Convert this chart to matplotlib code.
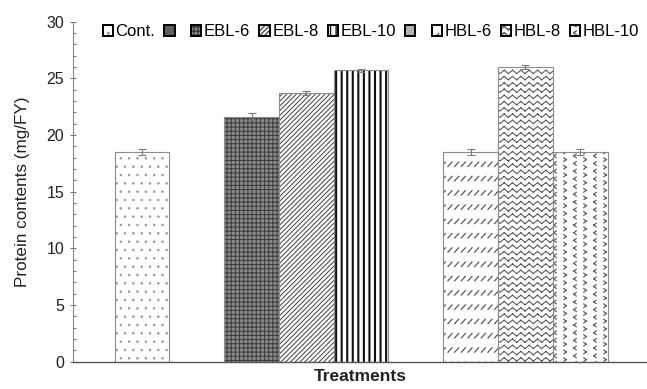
import numpy as np
import matplotlib
matplotlib.use("Agg")
import matplotlib.pyplot as plt
import matplotlib.hatch as mhatch
from matplotlib.patches import Patch
from matplotlib.path import Path
from matplotlib.ticker import MultipleLocator
from matplotlib.legend_handler import HandlerTuple

# ==============================================================================
# DADOS (proteína em mg/FY, média e erro padrão)
# os dois rótulos vazios são as posições de separação entre os grupos
# ==============================================================================

tratamentos = ['Cont.', '', 'EBL-6', 'EBL-8', 'EBL-10', '', 'HBL-6', 'HBL-8', 'HBL-10']
proteina = [18.5, 0.0, 21.6, 23.7, 25.7, 0.0, 18.5, 26.0, 18.5]
erro = [0.3, 0.0, 0.3, 0.2, 0.1, 0.0, 0.3, 0.2, 0.3]

# estilo de cada tratamento: fundo, hachura, cor e espessura da hachura
cor_fundo = ['white', '#5e5e5e', '#8a8a8a', 'white', 'white', '#b4b4b4', 'white', 'white', 'white']
hachuras = ['..', None, '++++', '///////', '|||', None, 'o', 'O', '*']
cor_hachura = ['#9a9a9a', None, '#3a3a3a', '#4a4a4a', '#111111', None, '#5a5a5a', '#555555', '#606060']
esp_hachura = [0.6, 1.0, 0.7, 0.75, 1.5, 1.0, 0.9, 0.75, 0.9]

# ==============================================================================
# PADRÕES DE HACHURA PRÓPRIOS
# 'o' -> tracinhos inclinados, 'O' -> zigue-zague, '*' -> setas < >
# ==============================================================================

def _segmento(vertices, codes, k, p0, p1):
    vertices[k] = p0
    vertices[k + 1] = p1
    codes[k] = Path.MOVETO
    codes[k + 1] = Path.LINETO
    return k + 2


class Tracinhos(mhatch.HatchPatternBase):
    def __init__(self, hatch, density):
        self.linhas = 7 if 'o' in hatch else 0
        self.por_linha = 15
        self.num_vertices = 2 * self.linhas * self.por_linha

    def set_vertices_and_codes(self, vertices, codes):
        k = 0
        dx, dy = 0.02, 0.022
        for r in range(self.linhas):
            y = (r + 0.5) / self.linhas
            for c in range(self.por_linha):
                x = (c + 0.5) / self.por_linha
                k = _segmento(vertices, codes, k, (x - dx, y - dy), (x + dx, y + dy))


class ZigueZague(mhatch.HatchPatternBase):
    def __init__(self, hatch, density):
        self.linhas = 16 if 'O' in hatch else 0
        self.dentes = 12
        self.num_vertices = 2 * self.linhas * 2 * self.dentes

    def set_vertices_and_codes(self, vertices, codes):
        k = 0
        amp = 0.27 / self.linhas
        xs = np.linspace(0, 1, 2 * self.dentes + 1)
        for r in range(self.linhas):
            y0 = (r + 0.5) / self.linhas
            ys = [y0 - amp if i % 2 == 0 else y0 + amp for i in range(xs.size)]
            for i in range(2 * self.dentes):
                k = _segmento(vertices, codes, k, (xs[i], ys[i]), (xs[i + 1], ys[i + 1]))


class Setas(mhatch.HatchPatternBase):
    def __init__(self, hatch, density):
        self.colunas = 10 if '*' in hatch else 0
        self.linhas = 13
        self.num_vertices = 4 * self.colunas * self.linhas

    def set_vertices_and_codes(self, vertices, codes):
        k = 0
        a, b = 0.012, 0.018
        for c in range(self.colunas):
            x = (c + 0.5) / self.colunas
            lado = 1 if c % 2 == 0 else -1   # '>' e '<' alternados
            for r in range(self.linhas):
                y = (r + 0.25 + 0.5 * (c % 2)) / self.linhas
                k = _segmento(vertices, codes, k, (x - lado * a, y + b), (x + lado * a, y))
                k = _segmento(vertices, codes, k, (x + lado * a, y), (x - lado * a, y - b))


mhatch._hatch_types = [t for t in mhatch._hatch_types
                       if t not in (mhatch.SmallCircles, mhatch.LargeCircles, mhatch.Stars)]
mhatch._hatch_types += [Tracinhos, ZigueZague, Setas]

# ==============================================================================
# GRÁFICO
# ==============================================================================

plt.rcParams['font.family'] = ['Liberation Sans', 'DejaVu Sans']

fig = plt.figure(figsize=(6.47, 3.89), dpi=100)
ax = fig.add_axes([73.3 / 647, 1 - 361.7 / 389, 1 - 73.3 / 647, 340 / 389])


def barra_hachurada(eixo, pos, valor, i, **kw):
    with plt.rc_context({'hatch.linewidth': esp_hachura[i]}):
        b = eixo.bar(pos, valor, width=1.0, color=cor_fundo[i], hatch=hachuras[i],
                     edgecolor=cor_hachura[i], linewidth=0, **kw)
    for p in b:
        if hasattr(p, 'set_hatch_linewidth'):
            p.set_hatch_linewidth(esp_hachura[i])
    return b


x = np.arange(len(tratamentos))
for i, valor in enumerate(proteina):
    if valor == 0:
        continue  # posição de separação, sem barra
    barra_hachurada(ax, x[i], valor, i, zorder=2)
    # contorno cinza por cima da hachura
    ax.bar(x[i], valor, width=1.0, fill=False, edgecolor='#8c8c8c', linewidth=0.8, zorder=2.5)

validos = [i for i, v in enumerate(proteina) if v > 0]
ax.errorbar(x[validos], [proteina[i] for i in validos], yerr=[erro[i] for i in validos],
            fmt='none', ecolor='#7a7a7a', elinewidth=0.8, capsize=3, capthick=0.8, zorder=3)

ax.set_xlim(-1.255, 9.22)
ax.set_ylim(0, 30)
ax.set_xticks([])
ax.set_yticks(range(0, 31, 5))
ax.yaxis.set_minor_locator(MultipleLocator(1))
ax.tick_params(axis='y', which='major', direction='inout', length=5, width=0.8,
               color='#777777', labelsize=11.5, labelcolor='#222222', pad=4)
ax.tick_params(axis='y', which='minor', direction='in', length=2.5, width=0.7, color='#777777')

ax.spines['top'].set_visible(False)
ax.spines['right'].set_visible(False)
ax.spines['left'].set_color('#888888')
ax.spines['left'].set_linewidth(0.8)
ax.spines['bottom'].set_color('#555555')
ax.spines['bottom'].set_linewidth(1.0)

ax.set_ylabel('Protein contents (mg/FY)', fontsize=12.3, color='#222222')
ax.yaxis.set_label_coords(-0.0756, 0.5)
ax.set_xlabel('Treatments', fontsize=12.5, fontweight='bold', color='#222222')
ax.xaxis.set_label_coords(0.5, -0.022)

# legenda numa linha só: amostra da hachura dentro de caixa de contorno preto
alcas = []
for i in range(len(tratamentos)):
    with plt.rc_context({'hatch.linewidth': 0.8}):
        fundo = Patch(facecolor=cor_fundo[i], hatch=hachuras[i],
                      edgecolor=cor_hachura[i] or cor_fundo[i], linewidth=0)
    caixa = Patch(fill=False, edgecolor='black', linewidth=1.4)
    alcas.append((fundo, caixa))
rotulos = [t if t else ' ' for t in tratamentos]
fig.legend(alcas, rotulos, loc='center left', bbox_to_anchor=(102.7 / 647, 1 - 32 / 389),
           ncol=len(tratamentos), frameon=False, fontsize=12, borderpad=0, borderaxespad=0,
           handlelength=0.62, handleheight=0.62, handletextpad=0.15, columnspacing=0.55,
           handler_map={tuple: HandlerTuple(ndivide=1, pad=0)})

plt.savefig('out.png', dpi=100)
plt.close()
